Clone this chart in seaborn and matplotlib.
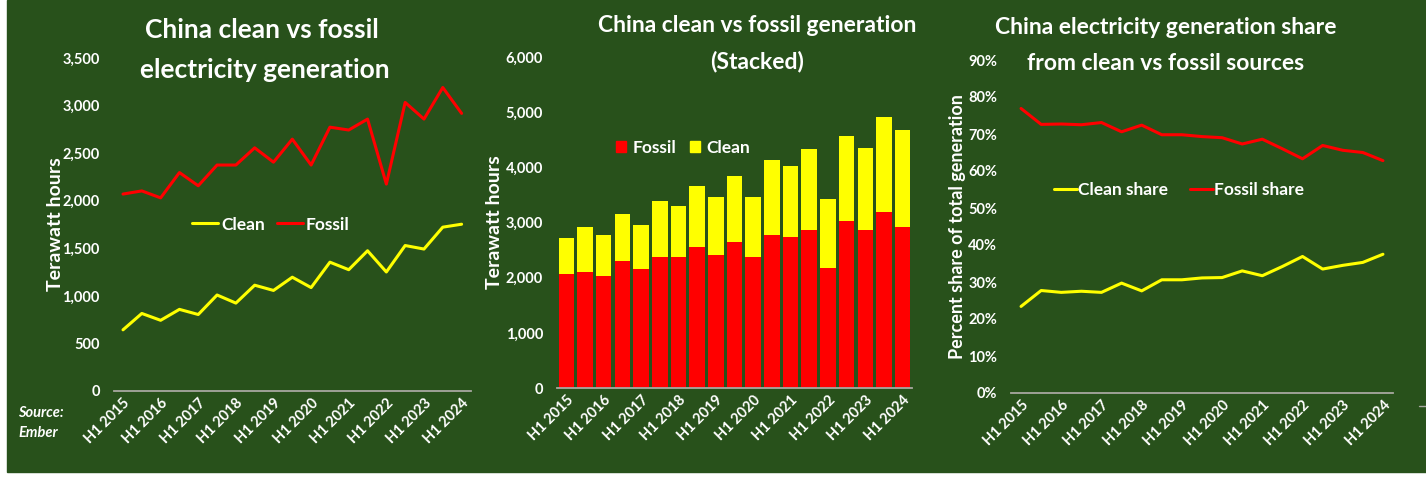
import matplotlib
matplotlib.use("Agg")
import matplotlib.pyplot as plt
import matplotlib.patches as mpatches
from matplotlib.lines import Line2D
import seaborn as sns
import pandas as pd

# half-year periods H1 2015 .. H1 2024
periods = []
for yr in range(2015, 2025):
    periods.append("H1 %d" % yr)
    if yr < 2024:
        periods.append("H2 %d" % yr)

fossil_twh = [2070, 2103, 2030, 2296, 2157, 2375, 2375, 2556, 2405, 2647,
              2375, 2773, 2743, 2858, 2175, 3033, 2858, 3190, 2918]
clean_twh = [643, 815, 743, 858, 804, 1009, 924, 1112, 1057, 1196,
             1087, 1354, 1275, 1474, 1251, 1529, 1492, 1722, 1753]
fossil_share = [76.9, 72.6, 72.7, 72.5, 73.1, 70.6, 72.4, 69.8, 69.8, 69.3,
                69.0, 67.3, 68.6, 66.0, 63.3, 66.9, 65.6, 65.0, 62.8]
clean_share = [23.4, 27.7, 27.2, 27.5, 27.2, 29.7, 27.6, 30.6, 30.6, 31.1,
               31.2, 33.0, 31.7, 34.2, 36.9, 33.5, 34.5, 35.3, 37.5]

BG = "#28511B"
RED = "#FF0000"
YEL = "#FFFF00"
W = 1426
H = 482
FONT = ["Lato", "DejaVu Sans"]

sns.set_style("white")
plt.rcParams["font.family"] = FONT
plt.rcParams["font.weight"] = "bold"

df = pd.DataFrame({"period": periods, "pos": range(len(periods)),
                   "fossil": fossil_twh, "clean": clean_twh,
                   "fossil_share": fossil_share, "clean_share": clean_share})
df["total"] = df["fossil"] + df["clean"]

fig = plt.figure(figsize=(W / 100, H / 100), dpi=100, facecolor="white")
fig.patches.append(mpatches.Rectangle((7 / W, 1 - 472 / H), 1 - 7 / W, 472 / H,
                                      transform=fig.transFigure, color=BG, zorder=-10))


def box(l, r, top, bottom):
    return [l / W, 1 - bottom / H, (r - l) / W, (bottom - top) / H]


def style(ax, ymax, step, fmt):
    ax.set_facecolor(BG)
    ax.patch.set_alpha(0)
    for s in ["top", "right", "left"]:
        ax.spines[s].set_visible(False)
    ax.spines["bottom"].set_color("#A8A8A0")
    ax.spines["bottom"].set_linewidth(1.3)
    ax.set_xlim(-0.5, len(periods) - 0.5)
    ax.set_ylim(0, ymax)
    ticks = list(range(0, ymax + 1, step))
    ax.set_yticks(ticks)
    ax.set_yticklabels([fmt(t) for t in ticks])
    ax.set_xticks(range(0, len(periods), 2))
    ax.set_xticklabels(periods[::2], rotation=45, ha="right", rotation_mode="anchor")
    ax.tick_params(length=0, colors="white", labelsize=10.5)
    ax.tick_params(axis="y", pad=10)
    for lab in ax.get_xticklabels() + ax.get_yticklabels():
        lab.set_fontweight("bold")
    ax.set_xlabel("")


legend_font = {"family": FONT, "weight": "bold", "size": 12.5}

# panel 1: lines
ax1 = fig.add_axes(box(113.6, 471, 58, 391))
sns.lineplot(data=df, x="pos", y="clean", color=YEL, lw=2.2, ax=ax1)
sns.lineplot(data=df, x="pos", y="fossil", color=RED, lw=2.2, ax=ax1)
style(ax1, 3500, 500, lambda v: "{:,}".format(v))
ax1.set_ylabel("Terawatt hours", color="white", fontsize=14, fontweight="bold")
ax1.yaxis.set_label_coords(-0.139, 0.5)
ax1.legend([Line2D([], [], color=YEL, lw=2.2), Line2D([], [], color=RED, lw=2.2)],
           ["Clean", "Fossil"], loc="center", bbox_to_anchor=(0.44, 0.5), ncol=2,
           frameon=False, labelcolor="white", handlelength=1.5,
           handletextpad=0.15, columnspacing=0.7, prop=legend_font)
fig.text(262 / W, 1 - 30 / H, "China clean vs fossil", color="white", fontsize=19,
         fontweight="bold", ha="center", va="center")
fig.text(265 / W, 1 - 70 / H, "electricity generation", color="white", fontsize=19,
         fontweight="bold", ha="center", va="center")
fig.text(18 / W, 1 - 413 / H, "Source:", color="white", fontsize=10.5,
         fontweight="bold", style="italic", va="center")
fig.text(18 / W, 1 - 433 / H, "Ember", color="white", fontsize=10.5,
         fontweight="bold", style="italic", va="center")

# panel 2: stacked bars
ax2 = fig.add_axes(box(557, 912, 57, 388))
sns.barplot(data=df, x="period", y="total", color=YEL, saturation=1, width=0.83,
            linewidth=0, ax=ax2)
sns.barplot(data=df, x="period", y="fossil", color=RED, saturation=1, width=0.83,
            linewidth=0, ax=ax2)
style(ax2, 6000, 1000, lambda v: "{:,}".format(v))
ax2.set_ylabel("Terawatt hours", color="white", fontsize=14, fontweight="bold")
ax2.yaxis.set_label_coords(-0.152, 0.5)
ax2.legend([mpatches.Patch(color=RED), mpatches.Patch(color=YEL)], ["Fossil", "Clean"],
           loc="center", bbox_to_anchor=(0.355, 0.725), ncol=2, frameon=False,
           labelcolor="white", handlelength=0.6, handleheight=0.6, handletextpad=0.35,
           columnspacing=0.8, prop=legend_font)
fig.text(757 / W, 1 - 25 / H, "China clean vs fossil generation", color="white",
         fontsize=16.5, fontweight="bold", ha="center", va="center")
fig.text(757 / W, 1 - 61 / H, "(Stacked)", color="white", fontsize=16.5,
         fontweight="bold", ha="center", va="center")

# panel 3: shares
ax3 = fig.add_axes(box(1011, 1393, 60, 393))
sns.lineplot(data=df, x="pos", y="clean_share", color=YEL, lw=2.2, ax=ax3)
sns.lineplot(data=df, x="pos", y="fossil_share", color=RED, lw=2.2, ax=ax3)
style(ax3, 90, 10, lambda v: "%d%%" % v)
ax3.set_ylabel("Percent share of total generation", color="white", fontsize=13,
               fontweight="bold")
ax3.yaxis.set_label_coords(-0.118, 0.5)
ax3.legend([Line2D([], [], color=YEL, lw=2.2), Line2D([], [], color=RED, lw=2.2)],
           ["Clean share", "Fossil share"], loc="center", bbox_to_anchor=(0.44, 0.61),
           ncol=2, frameon=False, labelcolor="white", handlelength=1.3,
           handletextpad=0.05, columnspacing=1.3, prop=legend_font)
fig.text(1166 / W, 1 - 28 / H, "China electricity generation share", color="white",
         fontsize=16.5, fontweight="bold", ha="center", va="center")
fig.text(1166 / W, 1 - 63 / H, "from clean vs fossil sources", color="white",
         fontsize=16.5, fontweight="bold", ha="center", va="center")
fig.lines.append(Line2D([1419 / W, 1], [1 - 406 / H, 1 - 406 / H],
                        transform=fig.transFigure, color="#A8A8A0", lw=1))

fig.savefig("out.png", dpi=100, facecolor="white")
